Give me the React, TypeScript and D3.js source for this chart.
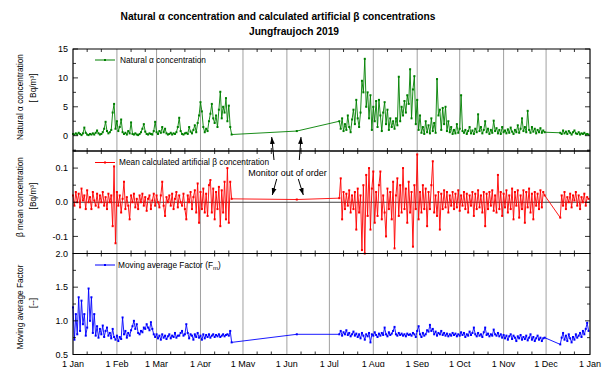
import React from 'react';
import * as d3 from 'd3';

const FONT = '"Liberation Sans", Arial, Helvetica, sans-serif';

// measuring periods (daily values) and the single value taken in June
const startA = new Date(2019, 0, 1);   // 1 Jan - 23 Apr
const gapDate = new Date(2019, 5, 8);  // 8 Jun
const startB = new Date(2019, 6, 8);   // 8 Jul - 30 Nov
const startC = new Date(2019, 11, 11); // 11 Dec - 31 Dec

// Natural alpha concentration [Bq/m3]
const alphaA = [
  0.3, 0.2, 0.4, 0.2, 0.5, 0.3, 0.1, 0.4, 1.4, 0.5,
  0.2, 0.1, 0.3, 0.2, 0.4, 0.2, 0.5, 0.9, 0.4, 0.2,
  0.3, 0.6, 1.2, 2.4, 0.8, 0.4, 0.6, 1.0, 4.0, 5.5,
  1.2, 2.5, 0.8, 1.5, 2.8, 0.6, 0.3, 0.5, 0.2, 0.8,
  0.4, 2.3, 0.3, 0.2, 0.4, 0.2, 0.1, 0.3, 0.6, 1.2,
  2.0, 0.7, 0.3, 0.2, 0.4, 0.3, 0.2, 0.8, 2.4, 0.6,
  0.3, 0.8, 0.5, 1.5, 0.6, 1.2, 0.4, 0.2, 0.3, 0.5,
  0.2, 0.4, 0.3, 0.6, 1.5, 3.1, 0.8, 0.3, 0.2, 0.4,
  0.5, 0.3, 1.5, 0.7, 0.4, 1.0, 1.8, 0.6, 2.2, 3.5,
  5.8, 4.2, 1.5, 0.6, 1.2, 0.8, 2.5, 3.8, 5.5, 3.0,
  2.2, 3.5, 1.5, 4.5, 7.6, 3.0, 5.0, 4.0, 6.5, 2.5,
  5.2, 1.5, 0.2,
];
const alphaGap = 0.8;
const alphaB = [
  2.5, 1.2, 3.0, 0.8, 2.0, 1.0, 3.5, 1.5, 0.6, 2.8,
  4.5, 2.0, 6.2, 3.0, 1.5, 4.0, 9.5, 7.5, 13.3, 5.0,
  7.5, 3.0, 7.0, 1.0, 5.0, 2.5, 6.0, 1.5, 6.2, 3.5,
  0.8, 4.0, 5.8, 2.0, 4.5, 1.0, 3.0, 1.5, 2.5, 1.2,
  3.0, 1.8, 10.2, 2.5, 5.0, 3.5, 6.0, 4.0, 7.0, 5.5,
  11.5, 3.0, 8.0, 10.3, 2.0, 6.2, 1.0, 3.5, 0.5, 1.5,
  0.3, 2.5, 0.6, 1.8, 0.4, 3.0, 0.8, 2.2, 0.5, 9.8,
  3.5, 4.5, 1.0, 4.8, 2.0, 5.0, 0.8, 2.5, 0.6, 1.5,
  0.3, 1.0, 0.4, 2.0, 0.5, 1.2, 7.0, 0.8, 0.5, 1.0,
  0.3, 0.8, 1.5, 0.4, 0.9, 0.3, 1.2, 0.6, 3.7, 0.8,
  1.5, 0.4, 1.0, 2.5, 0.6, 1.2, 0.3, 1.0, 0.5, 2.6,
  0.8, 1.3, 0.4, 1.0, 0.3, 1.5, 0.6, 0.9, 0.4, 1.1,
  0.5, 1.4, 0.7, 0.3, 1.0, 0.6, 1.8, 0.5, 1.2, 3.0,
  0.8, 1.5, 0.6, 4.3, 1.0, 0.5, 1.5, 0.7, 1.2, 0.4,
  1.0, 0.6, 1.3, 0.5, 0.9, 0.6,
];
const alphaC = [
  0.5, 0.3, 0.9, 0.4, 0.7, 0.3, 0.8, 0.5, 0.2, 0.6,
  0.9, 0.4, 0.3, 0.6, 0.2, 0.4, 0.3, 0.5, 0.2, 0.3, 0.2,
];

// Mean calculated artificial beta concentration [Bq/m3]
const betaA = [
  0.02, -0.01, 0.03, 0.0, 0.025, -0.015, 0.04, 0.005, 0.02, -0.02,
  0.035, 0.0, 0.015, -0.02, 0.03, 0.005, -0.01, 0.025, -0.015, 0.02,
  0.0, 0.03, -0.01, 0.015, -0.02, 0.025, 0.0, 0.02, -0.07, 0.105,
  -0.12, 0.03, -0.01, 0.02, -0.03, 0.01, 0.06, -0.02, 0.015, -0.01,
  -0.05, 0.02, 0.0, 0.025, -0.015, 0.01, -0.02, 0.02, 0.0, 0.025,
  -0.01, 0.015, -0.025, 0.01, 0.02, -0.02, 0.005, 0.025, -0.01, 0.02,
  0.0, -0.015, 0.02, 0.06, -0.01, -0.04, 0.015, 0.0, 0.02, -0.01,
  0.025, -0.02, 0.01, 0.03, -0.015, 0.02, 0.0, -0.01, 0.025, -0.02,
  -0.05, 0.02, 0.0, 0.03, -0.02, 0.015, 0.035, -0.03, 0.055, -0.06,
  0.03, -0.02, 0.04, -0.03, 0.025, -0.04, 0.05, 0.065, -0.03, 0.04,
  -0.05, 0.03, -0.02, 0.045, -0.07, 0.035, -0.03, 0.06, -0.05, 0.1,
  -0.06, 0.06, 0.01,
];
const betaGap = 0.008;
const betaB = [
  0.012, 0.07, -0.05, 0.03, -0.02, 0.025, -0.01, 0.035, -0.03, 0.02,
  -0.02, 0.03, -0.08, 0.04, -0.03, 0.02, -0.14, 0.05, -0.15, 0.08,
  -0.04, 0.1, -0.08, 0.04, 0.09, -0.06, 0.03, -0.04, 0.05, 0.09,
  -0.05, 0.02, -0.03, -0.1, 0.04, -0.02, 0.03, -0.05, 0.06, -0.135,
  0.02, 0.07, -0.04, 0.05, -0.03, 0.1, -0.02, 0.04, -0.06, 0.06,
  -0.03, 0.03, -0.13, 0.05, -0.02, 0.14, -0.05, 0.03, -0.03, 0.05,
  -0.02, 0.04, -0.07, 0.03, -0.02, 0.05, 0.12, -0.03, 0.02, -0.04,
  0.03, -0.08, 0.025, -0.02, 0.035, -0.015, 0.03, -0.03, 0.02, -0.01,
  0.03, -0.02, 0.025, -0.015, 0.035, -0.025, 0.02, -0.01, 0.03, -0.02,
  0.025, -0.03, 0.02, -0.01, 0.03, -0.04, 0.025, -0.02, 0.035, -0.015,
  0.02, -0.03, 0.03, -0.07, 0.025, -0.02, 0.03, -0.01, 0.035, -0.025,
  0.02, -0.03, 0.08, -0.02, 0.03, -0.04, 0.025, -0.015, 0.035, -0.03,
  0.02, -0.02, 0.04, -0.05, 0.03, -0.01, 0.035, -0.045, 0.02, -0.02,
  0.035, -0.06, 0.03, -0.015, 0.04, -0.03, 0.025, -0.05, 0.03, -0.01,
  0.025, -0.02, 0.035, -0.015, 0.03, 0.02,
];
const betaC = [
  -0.045, 0.02, -0.01, 0.03, -0.02, 0.015, 0.0, 0.025, -0.015, 0.02,
  0.005, 0.03, -0.01, 0.02, -0.02, 0.015, 0.0, 0.025, -0.01, 0.015, 0.01,
];

// Moving average factor Fm [--]
const factorA = [
  1.2, 0.72, 1.1, 0.8, 1.35, 0.85, 1.3, 0.95, 1.1, 0.78,
  0.9, 1.48, 1.0, 1.35, 0.82, 1.1, 0.78, 0.92, 0.75, 0.88,
  0.8, 0.93, 0.76, 0.85, 0.9, 0.78, 0.82, 0.74, 0.88, 0.76,
  0.72, 0.78, 0.7, 0.76, 0.73, 1.05, 0.8, 0.85, 0.75, 0.82,
  0.78, 0.86, 0.92, 1.0, 0.88, 0.95, 0.82, 0.8, 0.85, 0.83,
  0.9, 0.88, 0.95, 0.9, 0.86, 0.98, 0.88, 0.8, 0.76, 0.8,
  0.74, 0.78, 0.72, 0.8, 0.75, 0.78, 0.73, 0.77, 0.8, 0.74,
  0.78, 0.76, 0.82, 0.75, 0.78, 0.78, 0.82, 0.85, 0.78, 0.8,
  0.95, 0.82, 0.74, 0.8, 0.78, 0.72, 0.8, 0.76, 0.82, 0.75,
  0.78, 0.72, 0.8, 0.74, 0.79, 0.76, 0.8, 0.75, 0.78, 0.8,
  0.76, 0.79, 0.77, 0.8, 0.76, 0.78, 0.8, 0.77, 0.79, 0.8,
  0.78, 0.85, 0.68,
];
const factorGap = 0.8;
const factorB = [
  0.8, 0.85, 0.78, 0.83, 0.8, 0.86, 0.79, 0.82, 0.77, 0.8,
  0.84, 0.78, 0.81, 0.76, 0.8, 0.74, 0.82, 0.78, 0.72, 0.8,
  0.77, 0.82, 0.68, 0.8, 0.78, 0.83, 0.79, 0.76, 0.81, 0.78,
  0.82, 0.79, 0.9, 0.8, 0.77, 0.83, 0.79, 0.81, 0.85, 0.91,
  0.8, 0.78, 0.82, 0.79, 0.81, 0.78, 0.8, 0.77, 0.81, 0.79,
  0.8, 0.78, 0.82, 0.8, 0.76, 0.85, 0.92, 0.8, 0.76, 0.82,
  0.78, 0.8, 0.86, 0.84, 0.94, 0.85, 0.88, 0.8, 0.84, 0.78,
  0.82, 0.8, 0.85, 0.79, 0.82, 0.78, 0.81, 0.77, 0.8, 0.78,
  0.82, 0.79, 0.81, 0.77, 0.8, 0.78, 0.83, 0.79, 0.82, 0.76,
  0.8, 0.78, 0.84, 0.79, 0.82, 0.9, 0.8, 0.77, 0.82, 0.78,
  0.8, 0.76, 0.83, 0.9, 0.79, 0.81, 0.77, 0.8, 0.78, 0.87,
  0.8, 0.78, 0.82, 0.77, 0.8, 0.75, 0.79, 0.74, 0.78, 0.72,
  0.77, 0.8, 0.73, 0.78, 0.75, 0.7, 0.77, 0.74, 0.79, 0.72,
  0.76, 0.73, 0.78, 0.71, 0.75, 0.8, 0.72, 0.76, 0.7, 0.74,
  0.78, 0.72, 0.75, 0.7, 0.74, 0.75,
];
const factorC = [
  0.65, 0.75, 0.82, 0.72, 0.78, 0.7, 0.8, 0.74, 0.68, 0.76,
  0.72, 0.8, 0.75, 0.78, 0.82, 0.76, 0.85, 0.8, 0.88, 0.97, 0.85,
];

// tick values
const alphaTicks = [0, 5, 10, 15];
const betaTicks = [-0.1, 0.0, 0.1];
const factorTicks = [0.5, 1.0, 1.5, 2.0];

type Pt = { date: Date; v: number };

function buildSeries(a: number[], gap: number, b: number[], c: number[]): Pt[] {
  const seg = (start: Date, vals: number[]) =>
    vals.map((v, i) => ({ date: d3.timeDay.offset(start, i), v }));
  return [...seg(startA, a), { date: gapDate, v: gap }, ...seg(startB, b), ...seg(startC, c)];
}

const X0 = 73;
const X1 = 590;

export default function App() {
  const x = d3.scaleTime()
    .domain([new Date(2019, 0, 1), new Date(2020, 0, 1)])
    .range([X0, X1]);

  const months = d3.timeMonth.range(new Date(2019, 0, 1), new Date(2020, 0, 2));
  const minorDays = d3.timeDay
    .range(new Date(2019, 0, 1), new Date(2020, 0, 1))
    .filter(d => d.getDate() === 11 || d.getDate() === 21);
  const fmtMonth = d3.timeFormat('%-d %b');

  const panels = [
    {
      key: 'alpha', top: 49, bottom: 151, domain: [-2.65, 15],
      color: '#008000', data: buildSeries(alphaA, alphaGap, alphaB, alphaC),
      ticks: alphaTicks, minorStep: 2.5, fmt: d3.format('d'),
      title: ['Natural \u03b1 concentration', '[ Bq/m\u00b3]'], titleY: [97, 88],
      legend: 'Natural \u03b1 concentration', legendY: 60, legendX: 120,
    },
    {
      key: 'beta', top: 151, bottom: 253.5, domain: [-0.15, 0.15],
      color: '#ff0000', data: buildSeries(betaA, betaGap, betaB, betaC),
      ticks: betaTicks, minorStep: 0.05, fmt: (v: number) => d3.format('.1f')(v).replace('\u2212', '-'),
      title: ['\u03b2 mean concentration', '[Bq/m\u00b3]'], titleY: [197, 196],
      legend: 'Mean calculated artificial \u03b2 concentration', legendY: 162.5, legendX: 119,
      zero: true,
    },
    {
      key: 'factor', top: 253.5, bottom: 354.5, domain: [0.5, 2.0],
      color: '#0000ff', data: buildSeries(factorA, factorGap, factorB, factorC),
      ticks: factorTicks, minorStep: 0.25, fmt: d3.format('.1f'),
      title: ['Moving average Factor', '[--]'], titleY: [307, 303],
      legend: 'Moving average Factor (F', legendSub: 'm', legendY: 265, legendX: 118,
    },
  ];

  return (
    <svg width={603} height={367} style={{ position: 'absolute', left: 0, top: 0 }}
      fontFamily={FONT}>
      <defs>
        <marker id="arrow" viewBox="0 0 10 10" refX="10" refY="5" markerWidth="7" markerHeight="7"
          orient="auto-start-reverse" markerUnits="userSpaceOnUse">
          <path d="M0,1.5 L10,5 L0,8.5 z" fill="#000" />
        </marker>
      </defs>
      <rect width={603} height={367} fill="#fff" />

      <text x={278} y={20} textAnchor="middle" fontSize={10.2} fontWeight="bold">
        Natural {'\u03b1'} concentration and calculated artificial {'\u03b2'} concentrations
      </text>
      <text x={294} y={35} textAnchor="middle" fontSize={10.2} fontWeight="bold">
        Jungfraujoch 2019
      </text>

      {panels.map(p => {
        const y = d3.scaleLinear().domain(p.domain).range([p.bottom, p.top]);
        const line = d3.line<Pt>().x(d => x(d.date)).y(d => y(d.v));
        const minor = d3.range(Math.ceil(p.domain[0] / p.minorStep) * p.minorStep, p.domain[1] + 1e-9, p.minorStep);
        return (
          <g key={p.key}>
            {months.map((m, i) => (
              <line key={i} x1={x(m)} x2={x(m)} y1={p.top} y2={p.bottom} stroke="#a0a0a0" strokeWidth={1} />
            ))}
            {p.zero && (
              <line x1={X0} x2={X1} y1={y(0)} y2={y(0)} stroke="#404040" strokeWidth={1} />
            )}
            <path d={line(p.data) ?? ''} fill="none" stroke={p.color} strokeWidth={0.9} />
            {p.data.map((d, i) => (
              <rect key={i} x={x(d.date) - 1} y={y(d.v) - 1} width={2} height={2} fill={p.color} />
            ))}
            <rect x={X0} y={p.top} width={X1 - X0} height={p.bottom - p.top} fill="none" stroke="#000" strokeWidth={1} />
            {/* x ticks */}
            {minorDays.map((d, i) => (
              <g key={'m' + i} stroke="#000" strokeWidth={0.8}>
                <line x1={x(d)} x2={x(d)} y1={p.top} y2={p.top + 3} />
                <line x1={x(d)} x2={x(d)} y1={p.bottom} y2={p.bottom - 3} />
              </g>
            ))}
            {/* y ticks */}
            {minor.map((v, i) => {
              const major = p.ticks.some(t => Math.abs(t - v) < 1e-9);
              const len = major ? 5 : 3;
              return (
                <g key={'y' + i} stroke="#000" strokeWidth={0.8}>
                  <line x1={X0} x2={X0 + len} y1={y(v)} y2={y(v)} />
                  <line x1={X1} x2={X1 - len} y1={y(v)} y2={y(v)} />
                </g>
              );
            })}
            {p.ticks.map((t, i) => (
              <text key={'l' + i} x={68} y={y(t)} dy="0.35em" textAnchor="end" fontSize={9} fill="#000">
                {p.fmt(t)}
              </text>
            ))}
            {/* y axis title */}
            <text transform={`translate(20,${p.titleY[0]}) rotate(-90)`} dy="0.35em" textAnchor="middle" fontSize={8.3}>
              {p.title[0]}
            </text>
            <text transform={`translate(33,${p.titleY[1]}) rotate(-90)`} dy="0.35em" textAnchor="middle" fontSize={8.3}>
              {p.title[1]}
            </text>
            {/* legend */}
            <line x1={95} x2={115} y1={p.legendY} y2={p.legendY} stroke={p.color} strokeWidth={1} />
            <rect x={104} y={p.legendY - 1} width={2} height={2} fill={p.color} />
            <text x={p.legendX} y={p.legendY} dy="0.35em" fontSize={8.3}>
              {p.legend}
              {p.legendSub && <tspan fontSize={6} dy={2}>{p.legendSub}</tspan>}
              {p.legendSub && <tspan dy={-2}>)</tspan>}
            </text>
          </g>
        );
      })}

      {months.map((m, i) => (
        <text key={i} x={x(m)} y={366.5} textAnchor="middle" fontSize={9}>{fmtMonth(m)}</text>
      ))}

      {/* annotation */}
      <text x={287.5} y={172.7} dy="0.35em" textAnchor="middle" fontSize={9}>Monitor out of order</text>
      <g stroke="#000" strokeWidth={1} markerEnd="url(#arrow)">
        <line x1={274} y1={160} x2={271.7} y2={137} />
        <line x1={299.3} y1={160} x2={301} y2={137} />
        <line x1={276.7} y1={179} x2={272.3} y2={195} />
        <line x1={298.3} y1={179} x2={303.3} y2={195} />
      </g>
    </svg>
  );
}
